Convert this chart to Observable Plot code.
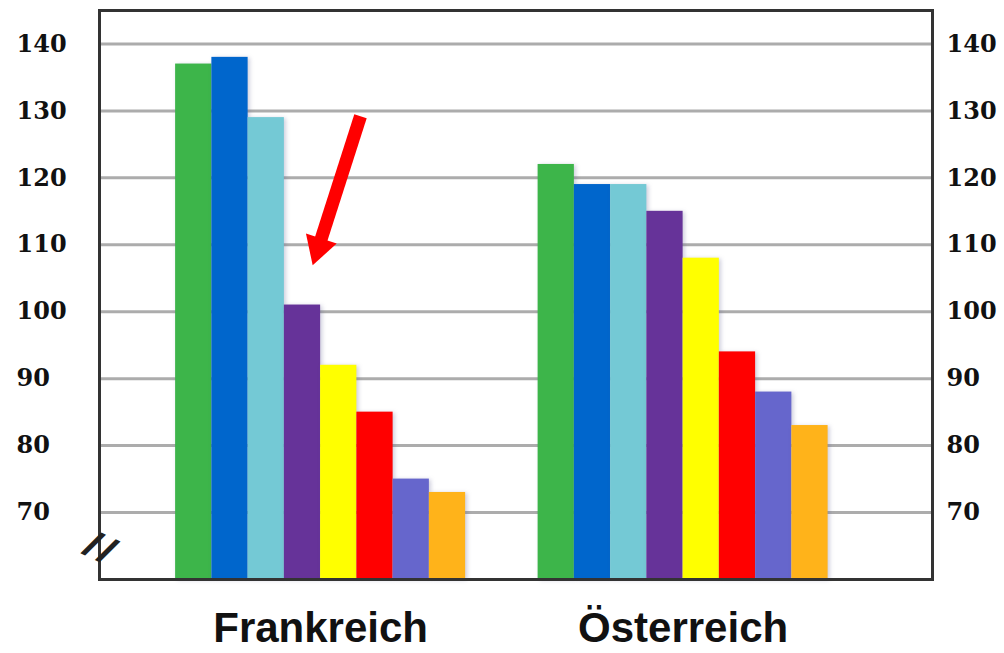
<!DOCTYPE html>
<html><head><meta charset="utf-8">
<script src="https://cdn.jsdelivr.net/npm/d3@7"></script>
<script src="https://cdn.jsdelivr.net/npm/@observablehq/plot@0.6"></script>
<style>body{margin:0;background:#fff} svg{display:block} .bars rect{filter:drop-shadow(2px 1px 2px rgba(90,90,140,0.3))}</style>
</head><body><div id="chart"></div>
<script>
const countries = ["Frankreich", "Österreich"];
const frankreich = [137, 138, 129, 101, 92, 85, 75, 73];
const oesterreich = [122, 119, 119, 115, 108, 94, 88, 83];
const colors = ["#3db54a", "#0066cc", "#74c9d5", "#663399", "#ffff00", "#ff0000", "#6666cc", "#ffb31a"];
const yTicks = [70, 80, 90, 100, 110, 120, 130, 140];
const yDomain = [60, 145];
const breakAt = [65.6];
const arrowTail = [{x: 5.1, y: 129.2}];
const arrowHead = [{x: 3.94, y: 109.6}];

// layout: each country group occupies 8 bar slots, groups are 10 slots apart
const groupStep = 10;
const rows = [];
[frankreich, oesterreich].forEach((vals, g) => vals.forEach((v, i) =>
  rows.push({country: countries[g], pos: g * groupStep + i, value: v, color: colors[i]})));
const arrow = arrowTail.map((t, k) => ({x1: t.x, y1: t.y, x2: arrowHead[k].x, y2: arrowHead[k].y}));

const tickFont = {fontSize: 24, fontWeight: "bold", fontFamily: "DejaVu Serif", fill: "#111"};

const chart = Plot.plot({
  width: 1004, height: 653,
  marginLeft: 99, marginRight: 72, marginTop: 10, marginBottom: 74,
  style: {background: "#fff"},
  x: {domain: [-2.1, 20.88], axis: null},
  y: {domain: yDomain, axis: null},
  color: {type: "identity"},
  marks: [
    Plot.ruleY(yTicks, {stroke: "#acacac", strokeWidth: 3}),
    Plot.rectY(rows, {x1: "pos", x2: d => d.pos + 1, y1: yDomain[0], y2: "value", fill: "color", className: "bars"}),
    Plot.frame({stroke: "#333", strokeWidth: 3}),
    Plot.text(yTicks, {y: d => d, frameAnchor: "left", dx: -83, textAnchor: "start", text: d => String(d), ...tickFont}),
    Plot.text(yTicks, {y: d => d, frameAnchor: "right", dx: 14, textAnchor: "start", text: d => String(d), ...tickFont}),
    Plot.text(breakAt, {y: d => d, frameAnchor: "left", dx: -14, text: () => "//", rotate: 25, fontSize: 38, fontWeight: "bold", fill: "#222"}),
    Plot.text(countries, {x: (d, g) => g * groupStep + 4, text: d => d, frameAnchor: "bottom", lineAnchor: "middle", dy: 49, fontSize: 42, letterSpacing: 2, fontWeight: "bold", fontFamily: "Liberation Sans, Arial", fill: "#111"}),
    Plot.link(arrow, {x1: "x1", y1: "y1", x2: "x2", y2: "y2", stroke: "#ff0000", strokeWidth: 13}),
    Plot.dot(arrow, {x: "x2", y: "y2", symbol: "triangle", r: 12, fill: "#ff0000", stroke: "none", rotate: 198})
  ]
});
document.getElementById("chart").appendChild(chart);
</script>
</body></html>
